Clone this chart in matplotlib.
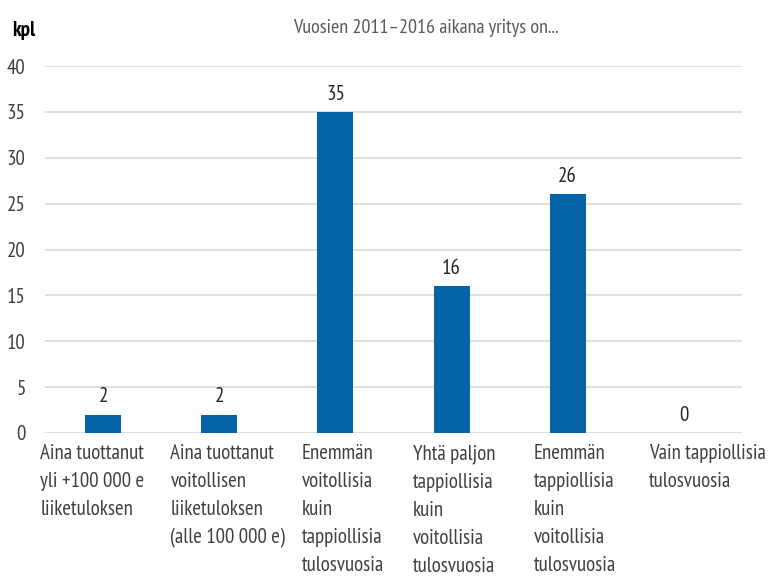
import matplotlib.pyplot as plt
import numpy as np

# data
categories = ['Aina tuottanut\nyli +100 000 e\nliiketuloksen',
              'Aina tuottanut\nvoitollisen\nliiketuloksen\n(alle 100 000 e)',
              'Enemmän\nvoitollisia\nkuin\ntappiollisia\ntulosvuosia',
              'Yhtä paljon\ntappiollisia\nkuin\nvoitollisia\ntulosvuosia',
              'Enemmän\ntappiollisia\nkuin\nvoitollisia\ntulosvuosia',
              'Vain tappiollisia\ntulosvuosia']
values = [2, 2, 35, 16, 26, 0]
yticks = [0, 5, 10, 15, 20, 25, 30, 35, 40]

# label left offsets (in category units, from left edge of each slot)
label_offsets = [-0.04, 0.08, 0.21, 0.17, 0.21, 0.2]

plt.rcParams['font.family'] = ['PT Sans Narrow', 'DejaVu Sans']

fig = plt.figure(figsize=(7.68, 5.77), dpi=100)
ax = fig.add_axes([45 / 768, 1 - 433 / 577, (742 - 45) / 768, (433 - 66) / 577])

x = np.arange(len(values))
ax.bar(x, values, width=0.31, color='#0563a8', zorder=3)
for xi, v in zip(x, values):
    ax.text(xi, v + 0.9, str(v), ha='center', va='bottom', fontsize=15, color='#262626')

ax.set_xlim(-0.5, len(values) - 0.5)
ax.set_ylim(0, 40)
ax.set_yticks(yticks)
ax.set_yticklabels([str(t) for t in yticks], fontsize=15, color='#404040')
ax.tick_params(axis='y', length=0, pad=14)
ax.set_xticks([])
ax.grid(axis='y', color='#d9d9d9', linewidth=1.2, zorder=0)
for s in ax.spines.values():
    s.set_visible(False)

for i, (lab, off) in enumerate(zip(categories, label_offsets)):
    ax.text(i - 0.5 + off, -1.2, lab, ha='left', va='top', fontsize=15,
            color='#404040', linespacing=1.6, transform=ax.transData)

fig.text(12 / 768, 1 - 30 / 577, 'kpl', fontsize=15, color='#000000', va='center',
         weight='bold')
fig.text(426 / 768, 1 - 28 / 577, 'Vuosien 2011\u20132016 aikana yritys on...', fontsize=14.5,
         color='#595959', ha='center', va='center')

fig.savefig('out.png', dpi=100)
